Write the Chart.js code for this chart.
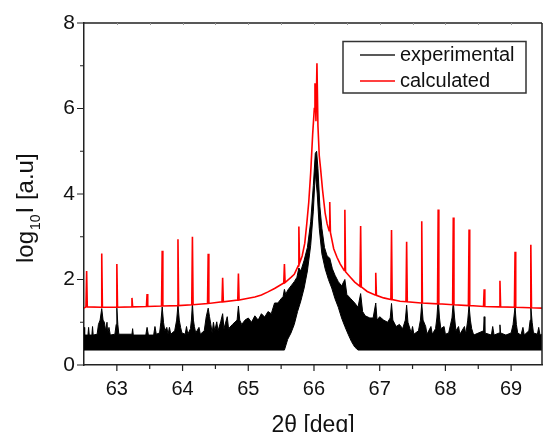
<!DOCTYPE html>
<html><head><meta charset="utf-8">
<script src="https://cdn.jsdelivr.net/npm/chart.js@4/dist/chart.umd.min.js"></script>
<style>html,body{margin:0;padding:0;background:#fff;}canvas{display:block;}</style>
</head><body>
<canvas id="c" width="543" height="432"></canvas>
<script>
// ---- tick values / labels ----
const xTickValues = [63, 64, 65, 66, 67, 68, 69];
const xTickLabels = ['63', '64', '65', '66', '67', '68', '69'];
const xMinorTicks = [63.5, 64.5, 65.5, 66.5, 67.5, 68.5];
const yTickValues = [0, 2, 4, 6, 8];
const yTickLabels = ['0', '2', '4', '6', '8'];
const yMinorTicks = [1, 3, 5, 7];
const seriesLabels = ['experimental', 'calculated'];

// ---- experimental: upper edge of the noisy trace ----
const expX = [
 62.50, 62.51, 62.56, 62.57, 62.58, 62.62, 62.63, 62.64, 62.70, 62.72,
 62.745,62.77, 62.79, 62.81, 62.83, 62.85, 62.86, 62.88, 62.90, 62.97,
 62.99, 63.00, 63.015,63.03, 63.23, 63.24, 63.25, 63.44, 63.46, 63.48,
 63.56, 63.58, 63.60, 63.65, 63.67, 63.69, 63.71, 63.73, 63.76, 63.78,
 63.80, 63.82, 63.88, 63.91, 63.93, 63.95, 63.97, 63.99, 64.04, 64.06,
 64.08, 64.12, 64.135,64.15, 64.165,64.18, 64.20, 64.25, 64.27, 64.33,
 64.36, 64.39, 64.41, 64.43, 64.45, 64.47, 64.49, 64.52, 64.54, 64.58,
 64.61, 64.63, 64.68, 64.70, 64.76, 64.83, 64.85, 64.87, 64.90, 64.95,
 65.00, 65.05, 65.10, 65.15, 65.20, 65.25, 65.30, 65.35, 65.40, 65.45,
 65.50, 65.53, 65.55, 65.57, 65.60, 65.65, 65.70, 65.74, 65.77, 65.80,
 65.85, 65.90, 65.95, 65.99, 66.02, 66.04, 66.06, 66.09, 66.12, 66.16,
 66.20, 66.24, 66.28, 66.32, 66.37, 66.42, 66.47, 66.50, 66.56, 66.62,
 66.67, 66.71, 66.74, 66.78, 66.85, 66.90, 66.94, 66.96, 67.00, 67.06,
 67.12, 67.16, 67.18, 67.20, 67.25, 67.30, 67.35, 67.39, 67.41, 67.43,
 67.48, 67.50, 67.52, 67.59, 67.62, 67.64, 67.66, 67.70, 67.72, 67.78,
 67.80, 67.85, 67.87, 67.89, 67.91, 67.93, 67.98, 68.00, 68.05, 68.10,
 68.12, 68.14, 68.16, 68.20, 68.22, 68.29, 68.31, 68.34, 68.36, 68.38,
 68.40, 68.43, 68.58, 68.59, 68.60, 68.70, 68.72, 68.74, 68.82, 68.83,
 68.84, 68.92, 69.00, 69.03, 69.06, 69.08, 69.10, 69.15, 69.18, 69.20,
 69.27, 69.29, 69.30, 69.32, 69.34, 69.40, 69.42, 69.44, 69.47
];
const expHigh = [
 0.88, 0.70, 0.70, 0.88, 0.70, 0.70, 0.90, 0.70, 0.72, 0.95,
 1.05, 1.32, 1.05, 1.00, 0.80, 1.00, 0.75, 0.88, 0.70, 0.72,
 0.95, 1.33, 0.95, 0.72, 0.72, 0.85, 0.70, 0.70, 0.88, 0.70,
 0.70, 0.90, 0.72, 0.75, 1.00, 1.36, 1.00, 0.80, 0.88, 0.72,
 0.88, 0.72, 0.80, 1.05, 1.41, 1.05, 0.88, 0.75, 0.72, 0.90,
 0.72, 0.85, 1.05, 1.45, 1.05, 0.90, 0.75, 0.88, 0.72, 0.80,
 1.13, 1.33, 1.13, 0.95, 0.75, 1.00, 0.80, 1.01, 0.80, 1.01,
 1.20, 0.85, 1.13, 0.85, 0.95, 1.05, 1.38, 1.05, 0.95, 1.05,
 1.10, 1.00, 1.15, 1.05, 1.20, 1.12, 1.25, 1.20, 1.45, 1.45,
 1.55, 1.60, 1.77, 1.65, 1.75, 1.85, 1.95, 2.05, 2.27, 2.20,
 2.45, 2.75, 3.35, 4.20, 4.95, 5.00, 4.60, 3.70, 3.20, 2.75,
 2.55, 2.50, 2.25, 2.10, 1.95, 1.85, 2.00, 1.65, 1.55, 1.45,
 1.35, 1.67, 1.25, 1.15, 1.10, 1.10, 1.45, 1.05, 1.13, 1.05,
 1.00, 1.10, 1.44, 1.05, 0.90, 0.95, 0.85, 1.05, 1.40, 1.00,
 0.75, 0.90, 0.72, 0.80, 1.05, 1.44, 1.05, 0.90, 0.72, 0.90,
 0.72, 0.85, 1.10, 1.56, 1.10, 0.85, 0.90, 0.72, 0.75, 1.10,
 1.48, 1.10, 0.80, 0.90, 0.72, 0.90, 0.72, 1.05, 1.40, 1.05,
 0.85, 0.70, 0.80, 1.13, 0.75, 0.70, 0.90, 0.70, 0.75, 0.94,
 0.75, 0.70, 0.75, 0.95, 1.36, 0.95, 0.75, 0.70, 0.88, 0.70,
 0.80, 1.05, 1.36, 1.00, 0.75, 0.72, 0.88, 0.70, 0.72
];
// ---- experimental: lower edge of the noisy trace ----
const expLowX = [
 62.50, 65.55, 65.60, 65.65, 65.70, 65.75, 65.80, 65.85, 65.90, 65.95,
 65.99, 66.02, 66.05, 66.08, 66.12, 66.17, 66.22, 66.27, 66.32, 66.37,
 66.42, 66.47, 66.52, 66.57, 66.62, 66.67, 69.47
];
const expLow = [
 0.35, 0.35, 0.60, 0.75, 0.95, 1.25, 1.50, 1.80, 2.20, 2.80,
 3.60, 4.50, 4.00, 3.20, 2.60, 2.25, 2.00, 1.80, 1.55, 1.35,
 1.10, 0.90, 0.72, 0.55, 0.42, 0.35, 0.35
];
// ---- calculated ----
const calcX = [
 62.50, 62.53, 62.54, 62.55, 62.76, 62.77, 62.78, 62.99, 63.00, 63.01,
 63.22, 63.23, 63.24, 63.45, 63.46, 63.47, 63.68, 63.69, 63.70, 63.92,
 63.93, 63.94, 64.14, 64.15, 64.16, 64.38, 64.39, 64.40, 64.60, 64.61,
 64.62, 64.84, 64.85, 64.86, 65.00, 65.10, 65.20, 65.30, 65.40, 65.54,
 65.55, 65.56, 65.65, 65.70, 65.76, 65.77, 65.78, 65.82, 65.86, 65.89,
 65.92, 65.95, 65.98, 66.005,66.015,66.03, 66.045,66.06, 66.08, 66.10,
 66.13, 66.17, 66.20, 66.23, 66.24, 66.25, 66.30, 66.35, 66.40, 66.46,
 66.47, 66.48, 66.55, 66.62, 66.70, 66.71, 66.72, 66.81, 66.93, 66.94,
 66.95, 67.06, 67.17, 67.18, 67.19, 67.31, 67.40, 67.41, 67.42, 67.63,
 67.64, 67.65, 67.88, 67.89, 67.90, 68.11, 68.12, 68.13, 68.35, 68.36,
 68.37, 68.58, 68.59, 68.60, 68.82, 68.83, 68.84, 69.05, 69.06, 69.07,
 69.29, 69.30, 69.31, 69.47
];
const calcY = [
 1.33, 1.36, 2.20, 1.36, 1.35, 2.61, 1.35, 1.35, 2.36, 1.35,
 1.36, 1.57, 1.36, 1.37, 1.66, 1.37, 1.38, 2.67, 1.38, 1.39,
 2.94, 1.39, 1.41, 3.00, 1.41, 1.44, 2.60, 1.44, 1.48, 2.04,
 1.48, 1.52, 2.14, 1.52, 1.56, 1.59, 1.64, 1.71, 1.79, 1.92,
 2.36, 1.93, 2.05, 2.12, 2.32, 3.24, 2.38, 2.55, 2.85, 3.30,
 3.80, 4.50, 5.40, 6.00, 6.59, 5.70, 7.06, 5.60, 4.90, 4.60,
 4.10, 3.55, 3.30, 3.14, 3.81, 3.10, 2.72, 2.52, 2.36, 2.21,
 3.63, 2.18, 2.06, 1.94, 1.84, 3.25, 1.83, 1.72, 1.64, 2.16,
 1.63, 1.57, 1.53, 3.16, 1.53, 1.49, 1.48, 2.88, 1.48, 1.45,
 3.36, 1.45, 1.43, 3.64, 1.43, 1.41, 3.45, 1.41, 1.39, 3.17,
 1.39, 1.37, 1.77, 1.37, 1.36, 1.97, 1.36, 1.35, 2.65, 1.35,
 1.34, 2.81, 1.34, 1.33
];

const FONT = "'Liberation Sans', Arial, sans-serif";
const toPts = (xs, ys) => xs.map((x, i) => ({x: x, y: ys[i]}));

const framePlugin = {
  id: 'frame',
  afterDraw(chart) {
    const ctx = chart.ctx, a = chart.chartArea;
    const xs = chart.scales.x, ys = chart.scales.y;
    ctx.save();
    // top and right frame
    ctx.strokeStyle = '#222'; ctx.lineWidth = 1.5;
    ctx.beginPath();
    ctx.moveTo(a.left, a.top); ctx.lineTo(a.right, a.top);
    ctx.moveTo(a.right, a.top); ctx.lineTo(a.right, a.bottom);
    ctx.stroke();
    // ticks
    ctx.lineWidth = 1.2; ctx.strokeStyle = '#222';
    ctx.beginPath();
    xTickValues.forEach(v => { const p = xs.getPixelForValue(v); ctx.moveTo(p, a.bottom); ctx.lineTo(p, a.bottom + 6); });
    xMinorTicks.forEach(v => { const p = xs.getPixelForValue(v); ctx.moveTo(p, a.bottom); ctx.lineTo(p, a.bottom + 4); });
    yTickValues.forEach(v => { const p = ys.getPixelForValue(v); ctx.moveTo(a.left, p); ctx.lineTo(a.left - 7, p); });
    yMinorTicks.forEach(v => { const p = ys.getPixelForValue(v); ctx.moveTo(a.left, p); ctx.lineTo(a.left - 4, p); });
    ctx.stroke();
    ctx.strokeStyle = '#999'; ctx.lineWidth = 1;
    ctx.beginPath();
    xTickValues.concat(xMinorTicks).forEach(v => { const p = Math.round(xs.getPixelForValue(v)) + 0.5; ctx.moveTo(p, a.top); ctx.lineTo(p, a.top + 2); });
    ctx.stroke();
    // legend
    const lx = a.right - 199, ly = a.top + 18.5;
    ctx.strokeStyle = '#333'; ctx.lineWidth = 1.5;
    ctx.strokeRect(lx, ly, 183, 51.5);
    const ds = chart.data.datasets;
    const items = [ds[0], ds[2]];
    items.forEach((d, i) => {
      const yy = ly + 13.5 + i * 26;
      ctx.strokeStyle = i === 0 ? '#222' : d.borderColor; ctx.lineWidth = 1.5;
      ctx.beginPath(); ctx.moveTo(lx + 17, yy); ctx.lineTo(lx + 52, yy); ctx.stroke();
      ctx.fillStyle = '#111'; ctx.font = '20px ' + FONT; ctx.textBaseline = 'middle'; ctx.textAlign = 'left';
      ctx.fillText(d.label, lx + 57, yy);
    });
    // y axis title with subscript
    ctx.translate(33, 263);
    ctx.rotate(-Math.PI / 2);
    ctx.fillStyle = '#111'; ctx.textBaseline = 'alphabetic'; ctx.textAlign = 'left';
    ctx.font = '24px ' + FONT;
    ctx.fillText('log', 0, 0);
    let w = ctx.measureText('log').width;
    ctx.font = '14px ' + FONT;
    ctx.fillText('10', w + 1, 7);
    w += ctx.measureText('10').width + 2;
    ctx.font = '24px ' + FONT;
    ctx.fillText('I [a.u]', w, 0);
    ctx.restore();
  }
};

new Chart(document.getElementById('c'), {
  type: 'line',
  data: {
    datasets: [
      { label: seriesLabels[0], data: toPts(expX, expHigh), borderColor: '#000', backgroundColor: '#000',
        borderWidth: 1, fill: '+1', pointRadius: 0, order: 1 },
      { label: 'experimental-low', data: toPts(expLowX, expLow), borderColor: '#000', backgroundColor: '#000',
        borderWidth: 1, fill: false, pointRadius: 0, order: 2 },
      { label: seriesLabels[1], data: toPts(calcX, calcY), borderColor: '#ff0000', backgroundColor: '#ff0000',
        borderWidth: 1.6, fill: false, pointRadius: 0, order: 0 }
    ]
  },
  options: {
    responsive: false, animation: false, devicePixelRatio: 1,
    layout: { padding: { top: 23, right: 1, left: 0, bottom: 0 } },
    plugins: { legend: { display: false }, tooltip: { enabled: false } },
    elements: { line: { tension: 0 } },
    scales: {
      x: {
        type: 'linear', min: 62.5, max: 69.47,
        afterBuildTicks: s => { s.ticks = xTickValues.map(v => ({ value: v })); },
        ticks: { callback: (v, i) => xTickLabels[i], font: { family: FONT, size: 20 }, color: '#111',
                 padding: 12, maxRotation: 0, autoSkip: false },
        grid: { display: false, drawTicks: false },
        border: { display: true, color: '#222', width: 1.5 },
        title: { display: true, text: '2θ [deg]', font: { family: FONT, size: 23 }, color: '#111',
                 padding: { top: 0, bottom: -7 } },
        afterFit: s => { s.height = 67; }
      },
      y: {
        type: 'linear', min: 0, max: 8,
        afterBuildTicks: s => { s.ticks = yTickValues.map(v => ({ value: v })); },
        ticks: { callback: (v, i) => yTickLabels[i], font: { family: FONT, size: 21 }, color: '#111',
                 padding: 9, autoSkip: false },
        grid: { display: false, drawTicks: false },
        border: { display: true, color: '#222', width: 1.5 },
        afterFit: s => { s.width = 84; }
      }
    }
  },
  plugins: [framePlugin]
});
</script>
</body></html>
